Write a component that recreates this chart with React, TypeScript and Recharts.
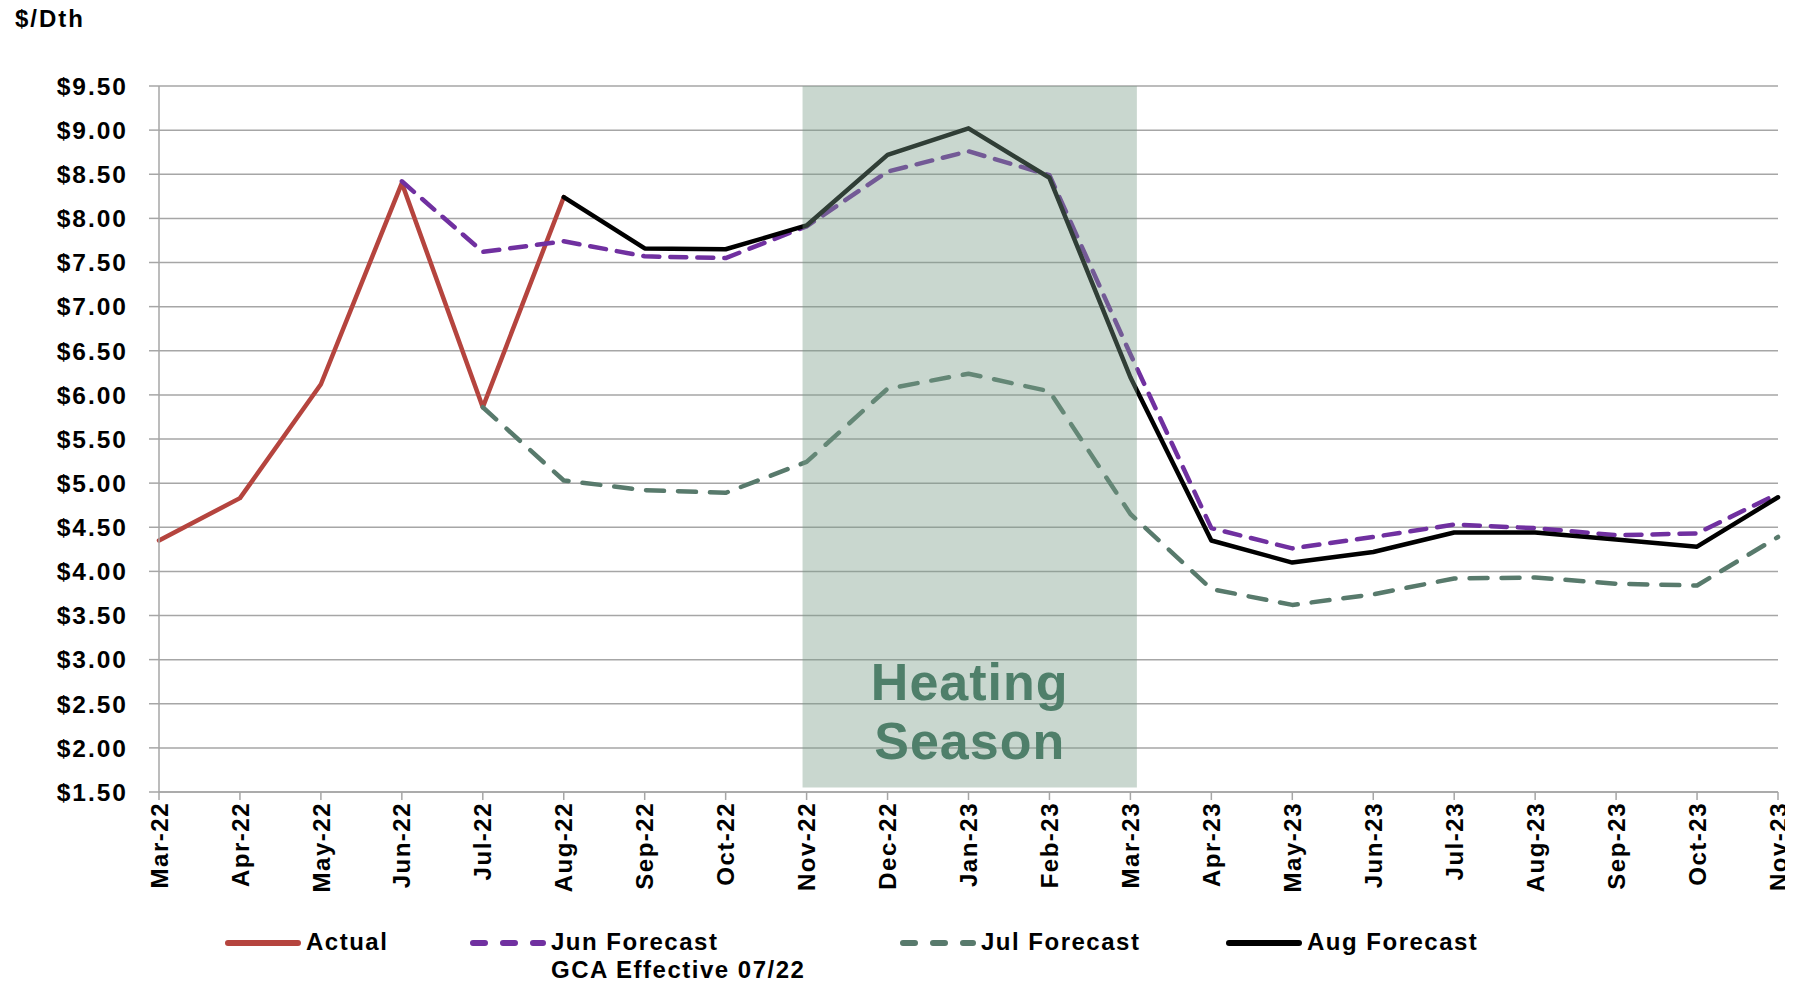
import {
  CartesianGrid,
  Line,
  LineChart,
  ReferenceArea,
  XAxis,
  YAxis,
} from "recharts";

const months = [
  "Mar-22", "Apr-22", "May-22", "Jun-22", "Jul-22", "Aug-22", "Sep-22",
  "Oct-22", "Nov-22", "Dec-22", "Jan-23", "Feb-23", "Mar-23", "Apr-23",
  "May-23", "Jun-23", "Jul-23", "Aug-23", "Sep-23", "Oct-23", "Nov-23",
];

const actual = [4.35, 4.83, 6.12, 8.4, 5.86, 8.24, null, null, null, null, null, null, null, null, null, null, null, null, null, null, null];
const junForecast = [null, null, null, 8.42, 7.62, 7.74, 7.57, 7.55, 7.91, 8.53, 8.76, 8.49, 6.46, 4.49, 4.26, 4.39, 4.53, 4.49, 4.41, 4.43, 4.88];
const julForecast = [null, null, null, null, 5.86, 5.03, 4.92, 4.89, 5.24, 6.07, 6.24, 6.04, 4.65, 3.8, 3.62, 3.74, 3.92, 3.93, 3.86, 3.84, 4.39];
const augForecast = [null, null, null, null, null, 8.24, 7.66, 7.65, 7.92, 8.72, 9.02, 8.46, 6.2, 4.35, 4.1, 4.22, 4.44, 4.44, 4.36, 4.28, 4.84];

const yTicks = [1.5, 2, 2.5, 3, 3.5, 4, 4.5, 5, 5.5, 6, 6.5, 7, 7.5, 8, 8.5, 9, 9.5];

// heating season band, in month-index units
const heatingStart = 7.95;
const heatingEnd = 12.08;

const FONT = "'Liberation Sans', Arial, sans-serif";

const series = [
  { key: "actual", name: "Actual", color: "#b5443e", dash: undefined },
  { key: "jul", name: "Jul Forecast", color: "#587a6c", dash: "18 14" },
  { key: "jun", name: "Jun Forecast", color: "#7030a0", dash: "16 11" },
  { key: "aug", name: "Aug Forecast", color: "#000000", dash: undefined },
];

function XTick({ x, y, payload }: any) {
  return (
    <text
      x={x}
      y={y}
      transform={`rotate(-90, ${x}, ${y})`}
      textAnchor="end"
      dy="0.36em"
      fill="#000"
      fontSize={24}
      fontWeight={700}
      fontFamily={FONT}
      letterSpacing={1.5}
    >
      {months[payload.value]}
    </text>
  );
}

function YTick({ x, y, payload }: any) {
  return (
    <text
      x={x}
      y={y}
      textAnchor="end"
      dy="0.36em"
      fill="#000"
      fontSize={24.5}
      fontWeight={700}
      fontFamily={FONT}
      letterSpacing={2}
    >
      {`$${payload.value.toFixed(2)}`}
    </text>
  );
}

function HeatingLabel({ viewBox }: any) {
  const cx = viewBox.x + viewBox.width / 2;
  const bottom = viewBox.y + viewBox.height;
  return (
    <text
      textAnchor="middle"
      fill="#4f7f6a"
      fontSize={52}
      fontWeight={700}
      fontFamily={FONT}
      letterSpacing={1}
    >
      <tspan x={cx} y={bottom - 88}>Heating</tspan>
      <tspan x={cx} y={bottom - 29}>Season</tspan>
    </text>
  );
}

function LegendKey({ color, dash }: { color: string; dash?: string }) {
  return (
    <svg width={78} height={12} style={{ display: "block" }}>
      <line
        x1={4}
        y1={6}
        x2={74}
        y2={6}
        stroke={color}
        strokeWidth={6}
        strokeLinecap="round"
        strokeDasharray={dash ? "12 18" : undefined}
      />
    </svg>
  );
}

const legendItems = [
  { name: "Actual", color: "#b5443e", dash: undefined, left: 224, sub: "" },
  { name: "Jun Forecast", color: "#7030a0", dash: "d", left: 469, sub: "GCA Effective 07/22" },
  { name: "Jul Forecast", color: "#587a6c", dash: "d", left: 899, sub: "" },
  { name: "Aug Forecast", color: "#000000", dash: undefined, left: 1225, sub: "" },
];

export default function App() {
  const data = months.map((m, i) => ({
    idx: i,
    month: m,
    actual: actual[i],
    jun: junForecast[i],
    jul: julForecast[i],
    aug: augForecast[i],
  }));

  return (
    <div
      style={{
        position: "relative",
        width: 1793,
        height: 986,
        margin: "-8px 0 0 -8px",
        background: "#fff",
        fontFamily: FONT,
      }}
    >
      <div
        style={{
          position: "absolute",
          left: 15,
          top: 5,
          fontSize: 24,
          fontWeight: 700,
          letterSpacing: 2,
        }}
      >
        $/Dth
      </div>
      <LineChart
        width={1793}
        height={986}
        data={data}
        margin={{ top: 86, right: 15, bottom: 94, left: 19 }}
      >
        <CartesianGrid vertical={false} stroke="#a6a6a6" strokeWidth={1.5} />
        <XAxis
          dataKey="idx"
          type="number"
          domain={[0, 20]}
          ticks={months.map((_, i) => i)}
          interval={0}
          tick={<XTick />}
          tickSize={8}
          tickMargin={2}
          height={100}
          stroke="#a6a6a6"
          strokeWidth={1.5}
        />
        <YAxis
          domain={[1.5, 9.5]}
          ticks={yTicks}
          interval={0}
          tick={<YTick />}
          tickSize={10}
          tickMargin={21}
          width={140}
          stroke="#a6a6a6"
          strokeWidth={1.5}
        />
        {series.map((s) => (
          <Line
            key={s.key}
            dataKey={s.key}
            name={s.name}
            stroke={s.color}
            strokeWidth={4.5}
            strokeDasharray={s.dash}
            strokeLinecap="round"
            strokeLinejoin="round"
            dot={false}
            activeDot={false}
            isAnimationActive={false}
          />
        ))}
        <ReferenceArea
          x1={heatingStart}
          x2={heatingEnd}
          y1={1.55}
          y2={9.5}
          fill="#789b87"
          fillOpacity={0.4}
          stroke="none"
          zIndex={1000}
          label={(props: any) => <HeatingLabel {...props} />}
        />
      </LineChart>
      {legendItems.map((it) => (
        <div
          key={it.name}
          style={{
            position: "absolute",
            left: it.left,
            top: 928,
            display: "flex",
            alignItems: "flex-start",
            fontSize: 24,
            fontWeight: 700,
            letterSpacing: 1.5,
            lineHeight: "28px",
          }}
        >
          <div style={{ paddingTop: 9 }}>
            <LegendKey color={it.color} dash={it.dash} />
          </div>
          <div style={{ marginLeft: 4 }}>
            <div>{it.name}</div>
            {it.sub ? <div>{it.sub}</div> : null}
          </div>
        </div>
      ))}
    </div>
  );
}
